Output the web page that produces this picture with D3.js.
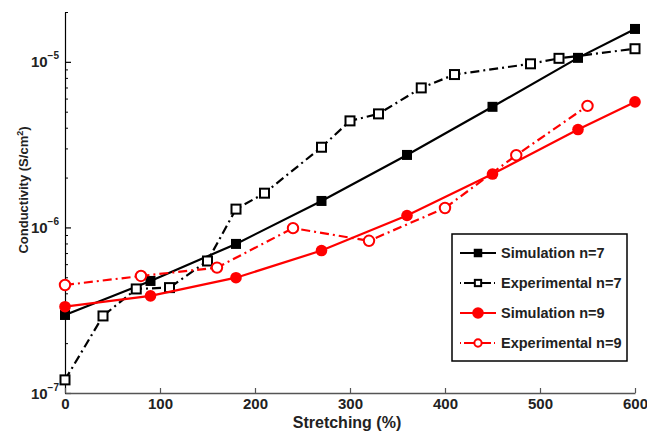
<!DOCTYPE html>
<html><head><meta charset="utf-8">
<script src="https://cdn.jsdelivr.net/npm/d3@7"></script>
<style>
body{margin:0;background:#fff}
text{font-family:"Liberation Sans",Arial,Helvetica,sans-serif;font-weight:bold;fill:#222}
</style>
</head><body>
<svg id="c" width="647" height="431"></svg>
<script>
// ---- data ----
const simN7X = [0, 90, 180, 270, 360, 450, 540, 600];
const simN7Y = [2.96e-7, 4.75e-7, 7.95e-7, 1.445e-6, 2.74e-6, 5.35e-6, 1.057e-5, 1.58e-5];
const expN7X = [0, 40, 75, 110, 150, 180, 210, 270, 300, 330, 375, 410, 490, 520, 600];
const expN7Y = [1.2e-7, 2.92e-7, 4.25e-7, 4.33e-7, 6.27e-7, 1.29e-6, 1.61e-6, 3.05e-6, 4.4e-6, 4.85e-6, 6.96e-6, 8.38e-6, 9.73e-6, 1.05e-5, 1.2e-5];
const simN9X = [0, 90, 180, 270, 360, 450, 540, 600];
const simN9Y = [3.32e-7, 3.86e-7, 4.97e-7, 7.25e-7, 1.18e-6, 2.1e-6, 3.9e-6, 5.73e-6];
const expN9X = [0, 80, 160, 240, 320, 400, 475, 550];
const expN9Y = [4.49e-7, 5.09e-7, 5.72e-7, 9.9e-7, 8.3e-7, 1.31e-6, 2.73e-6, 5.42e-6];
const seriesNames = ["Simulation n=7", "Experimental n=7", "Simulation n=9", "Experimental n=9"];
const xTicks = [0, 100, 200, 300, 400, 500, 600];
const yMajorTicks = [1e-7, 1e-6, 1e-5];
const yTickExponents = ["−7", "−6", "−5"];
const xLabel = "Stretching (%)";
const yLabel = "Conductivity (S/cm";

// ---- setup ----
const svg = d3.select("#c");
const x = d3.scaleLinear().domain([0, 600]).range([65, 635]);
const y = d3.scaleLog().domain([1e-7, 2e-5]).range([393, 12]);

const yMinor = [];
[1e-7, 1e-6, 1e-5].forEach(d => { for (let k = 2; k <= 9; k++) { const v = d * k; if (v <= 2e-5 + 1e-12) yMinor.push(v); } });

// minor y ticks
const gMinor = svg.append("g").attr("transform", "translate(65,0)")
  .call(d3.axisLeft(y).tickValues(yMinor).tickSize(-3).tickFormat(""));
gMinor.select(".domain").remove();
gMinor.selectAll("line").attr("stroke", "#000").attr("stroke-width", 1);

// major y axis
const gY = svg.append("g").attr("transform", "translate(65,0)")
  .call(d3.axisLeft(y).tickValues(yMajorTicks).tickSize(-6).tickSizeOuter(0).tickPadding(5).tickFormat(""));
gY.select(".domain").attr("stroke", "#000").attr("stroke-width", 1.2);
gY.selectAll("line").attr("stroke", "#000").attr("stroke-width", 1.2);
gY.selectAll(".tick").each(function(d, i) {
  const t = d3.select(this).select("text");
  t.text(null).attr("x", -6).attr("dy", null).attr("y", 5)
    .attr("text-anchor", "end").style("font-size", "15px").attr("fill", "#222");
  t.append("tspan").text("10");
  t.append("tspan").attr("dy", -8).style("font-size", "10px").text(yTickExponents[i]);
});

// x axis
const gX = svg.append("g").attr("transform", "translate(0,393)")
  .call(d3.axisBottom(x).tickValues(xTicks).tickSize(-5).tickSizeOuter(0).tickPadding(5));
gX.select(".domain").attr("stroke", "#555").attr("stroke-width", 1.4);
gX.selectAll("line").attr("stroke", "#555").attr("stroke-width", 1.2);
gX.selectAll("text").style("font-size", "15px").attr("fill", "#222")
  .attr("font-family", null);

// axis labels
svg.append("text").attr("x", 347).attr("y", 428).attr("text-anchor", "middle")
  .style("font-size", "16px").text(xLabel);
const yl = svg.append("text").attr("transform", "translate(28,190) rotate(-90)")
  .attr("text-anchor", "middle").style("font-size", "13px");
yl.append("tspan").text(yLabel);
yl.append("tspan").attr("dy", -5).style("font-size", "9px").text("2");
yl.append("tspan").attr("dy", 5).text(")");

// ---- series ----
const series = [
  {x: simN7X, y: simN7Y, color: "#000", dash: null, marker: "sqFill"},
  {x: expN7X, y: expN7Y, color: "#000", dash: "9,4,2,4", marker: "sqOpen"},
  {x: simN9X, y: simN9Y, color: "#f00", dash: null, marker: "cFill"},
  {x: expN9X, y: expN9Y, color: "#f00", dash: "9,4,2,4", marker: "cOpen"}
];
const line = d3.line().x(d => x(d[0])).y(d => y(d[1]));

function drawMarker(g, type, cx, cy, color, scale) {
  const s = scale || 1;
  if (type === "sqFill") {
    const a = 10 * s;
    g.append("rect").attr("x", cx - a/2).attr("y", cy - a/2).attr("width", a).attr("height", a).attr("fill", color);
  } else if (type === "sqOpen") {
    const a = 9 * s;
    g.append("rect").attr("x", cx - a/2).attr("y", cy - a/2).attr("width", a).attr("height", a)
      .attr("fill", "#fff").attr("stroke", color).attr("stroke-width", 2);
  } else if (type === "cFill") {
    g.append("circle").attr("cx", cx).attr("cy", cy).attr("r", 5.8 * s).attr("fill", color);
  } else {
    g.append("circle").attr("cx", cx).attr("cy", cy).attr("r", 5.2 * s)
      .attr("fill", "#fff").attr("stroke", color).attr("stroke-width", 2);
  }
}

series.forEach(s => {
  const pts = s.x.map((v, i) => [v, s.y[i]]);
  const g = svg.append("g");
  g.append("path").datum(pts).attr("d", line).attr("fill", "none")
    .attr("stroke", s.color).attr("stroke-width", 2.2)
    .attr("stroke-dasharray", s.dash);
  pts.forEach(p => drawMarker(g, s.marker, x(p[0]), y(p[1]), s.color, 1));
});

// ---- legend ----
const lg = svg.append("g");
lg.append("rect").attr("x", 452).attr("y", 234).attr("width", 175).attr("height", 127)
  .attr("fill", "#fff").attr("stroke", "#000").attr("stroke-width", 1.5);
series.forEach((s, i) => {
  const ly = 253 + i * 30;
  lg.append("line").attr("x1", 460).attr("x2", 496).attr("y1", ly).attr("y2", ly)
    .attr("stroke", s.color).attr("stroke-width", 2.2).attr("stroke-dasharray", s.dash ? "1,3,12,3,12,3,1" : null);
  const sc = s.marker === "sqFill" ? 0.85 : s.marker === "cFill" ? 1.0 : 0.7;
  drawMarker(lg, s.marker, 478, ly, s.color, sc);
  lg.append("text").attr("x", 501).attr("y", ly + 5).style("font-size", "14.5px").text(seriesNames[i]);
});
</script>
</body></html>
